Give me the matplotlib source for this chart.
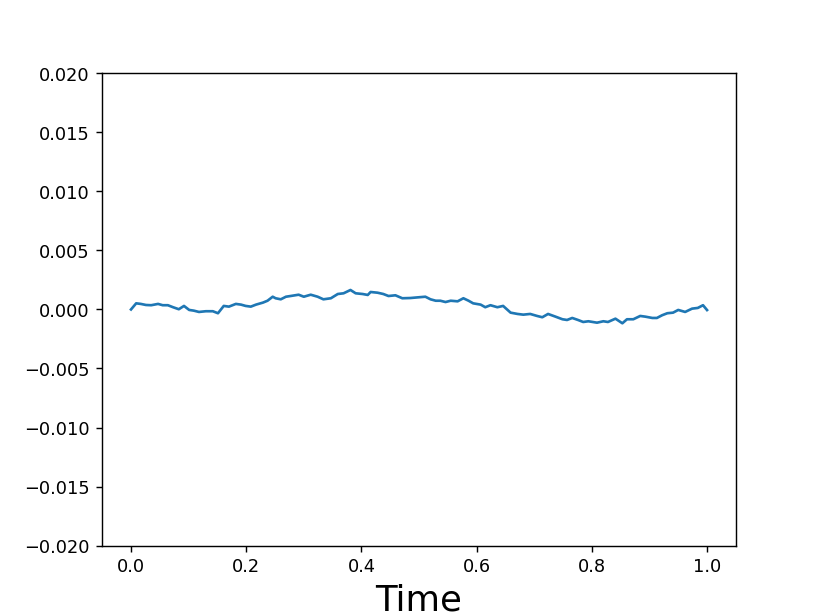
import matplotlib
matplotlib.use("Agg")
import matplotlib.pyplot as plt

# time points and path values (values in units of 1e-3)
time = [0.000, 0.009, 0.017, 0.026, 0.035, 0.047, 0.055, 0.064, 0.073, 0.083,
        0.092, 0.101, 0.109, 0.118, 0.130, 0.142, 0.151, 0.161, 0.170, 0.182,
        0.191, 0.199, 0.208, 0.217, 0.229, 0.237, 0.246, 0.251, 0.260, 0.269,
        0.277, 0.291, 0.300, 0.312, 0.324, 0.334, 0.347, 0.359, 0.369, 0.381,
        0.390, 0.402, 0.411, 0.416, 0.428, 0.438, 0.447, 0.459, 0.471, 0.485,
        0.499, 0.511, 0.520, 0.529, 0.537, 0.546, 0.555, 0.567, 0.577, 0.586,
        0.594, 0.607, 0.615, 0.624, 0.636, 0.646, 0.659, 0.671, 0.681, 0.693,
        0.705, 0.714, 0.724, 0.737, 0.749, 0.757, 0.766, 0.776, 0.785, 0.794,
        0.809, 0.820, 0.828, 0.841, 0.853, 0.861, 0.872, 0.884, 0.893, 0.905,
        0.913, 0.922, 0.931, 0.941, 0.950, 0.962, 0.974, 0.984, 0.993, 1.000]
path_e3 = [0.00, 0.52, 0.47, 0.38, 0.36, 0.47, 0.36, 0.36, 0.19, 0.02,
           0.30, -0.04, -0.10, -0.21, -0.15, -0.15, -0.32, 0.30, 0.24, 0.47,
           0.41, 0.30, 0.24, 0.41, 0.58, 0.74, 1.08, 0.95, 0.86, 1.08,
           1.14, 1.25, 1.08, 1.25, 1.08, 0.86, 0.95, 1.31, 1.37, 1.65,
           1.37, 1.31, 1.23, 1.48, 1.42, 1.31, 1.14, 1.20, 0.95, 0.97,
           1.03, 1.08, 0.86, 0.74, 0.74, 0.63, 0.74, 0.69, 0.95, 0.74,
           0.52, 0.41, 0.19, 0.36, 0.19, 0.30, -0.27, -0.38, -0.44, -0.38,
           -0.55, -0.66, -0.38, -0.61, -0.83, -0.89, -0.72, -0.89, -1.06, -1.00,
           -1.12, -1.00, -1.06, -0.78, -1.17, -0.83, -0.83, -0.55, -0.61, -0.72,
           -0.72, -0.49, -0.32, -0.27, -0.04, -0.21, 0.07, 0.13, 0.36, -0.05]
path = [v * 1e-3 for v in path_e3]

# default 6.4x4.8 figure, saved at a higher dpi
fig = plt.figure(figsize=(6.4, 4.8), dpi=127.75)
plt.plot(time, path)
plt.ylim(-0.02, 0.02)
plt.xlabel("Time", fontsize=20)
plt.savefig("out.png", dpi=127.75)
